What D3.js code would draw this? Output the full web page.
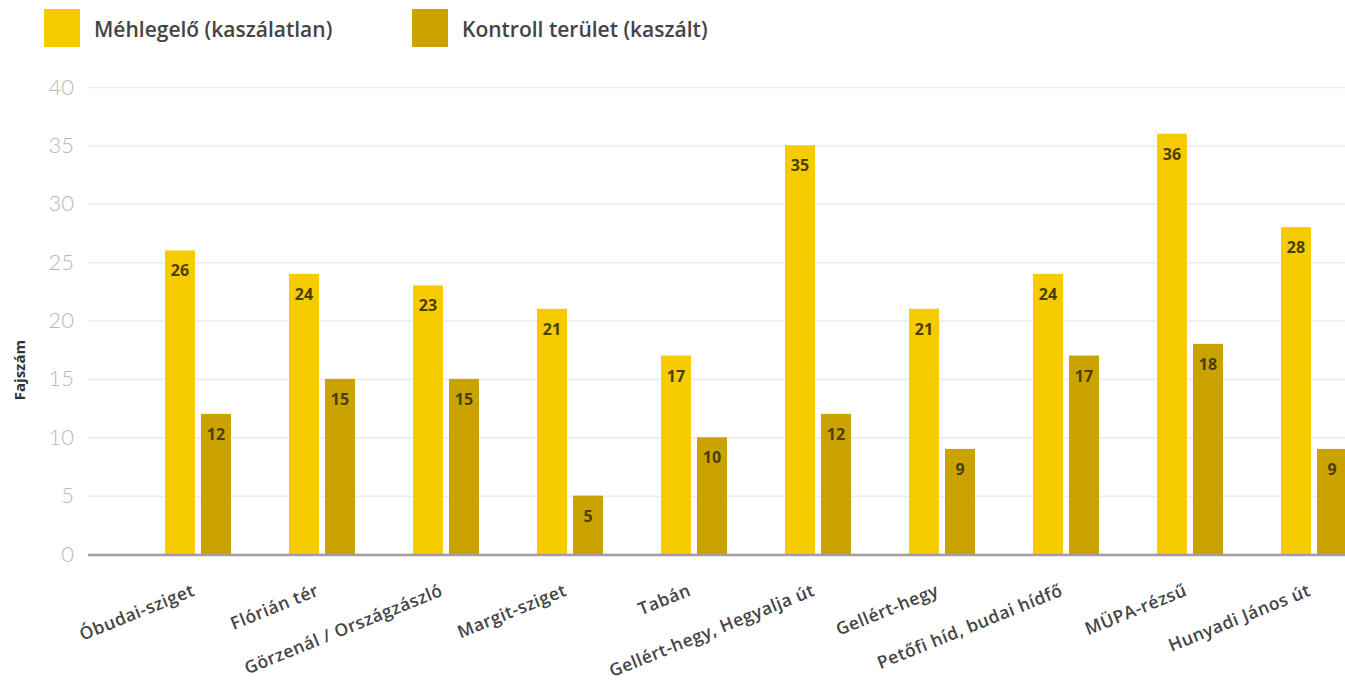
<!DOCTYPE html>
<html>
<head>
<meta charset="utf-8">
<script src="https://cdn.jsdelivr.net/npm/d3@7"></script>
<style>
  html, body { margin: 0; padding: 0; background: #fff; }
  svg { display: block; }
</style>
</head>
<body>
<svg id="chart" width="1345" height="685"></svg>
<script>
// data
const sites = [
  "Óbudai-sziget", "Flórián tér", "Görzenál / Országzászló", "Margit-sziget", "Tabán",
  "Gellért-hegy, Hegyalja út", "Gellért-hegy", "Petőfi híd, budai hídfő", "MÜPA-rézsű", "Hunyadi János út"
];
const seriesNames = ["Méhlegelő (kaszálatlan)", "Kontroll terület (kaszált)"];
const unmowed = [26, 24, 23, 21, 17, 35, 21, 24, 36, 28];
const mowed = [12, 15, 15, 5, 10, 12, 9, 17, 18, 9];
const yTicks = [0, 5, 10, 15, 20, 25, 30, 35, 40];

const colors = ["#f6cb00", "#cba300"];
const labelColor = "#4a3f00";
const textColor = "#444";

const rows = sites.map((s, i) => ({ site: s, values: [unmowed[i], mowed[i]] }));

const svg = d3.select("#chart");
const width = 1345;

// plot frame
const plotLeft = 88, plotTop = 87, plotBottom = 554;

const x0 = d3.scaleBand()
  .domain(sites)
  .range([136, 1376])
  .paddingInner(0.468)
  .paddingOuter(0.234);

const x1 = d3.scaleBand()
  .domain(seriesNames)
  .range([0, x0.bandwidth()])
  .paddingInner(1 / 6);

const y = d3.scaleLinear()
  .domain([0, 40])
  .range([plotBottom, plotTop]);

// gridlines + y labels
const gy = svg.append("g")
  .attr("transform", `translate(${plotLeft},0)`)
  .call(d3.axisLeft(y).tickValues(yTicks).tickSize(-(width - plotLeft)).tickPadding(14));
gy.select(".domain").remove();
gy.selectAll(".tick line").attr("stroke", "#ececec").attr("stroke-width", 1.5);
gy.selectAll(".tick text")
  .attr("fill", "#b8b8b8")
  .attr("font-family", "Lato, 'Open Sans', sans-serif")
  .attr("font-weight", 300)
  .attr("font-size", 22);

// y title
svg.append("text")
  .attr("transform", "translate(25,370) rotate(-90)")
  .attr("text-anchor", "middle")
  .attr("fill", "#333")
  .attr("font-family", "'Open Sans', sans-serif")
  .attr("font-weight", 700)
  .attr("font-size", 15)
  .text("Fajszám");

// bars
const groups = svg.append("g").selectAll("g")
  .data(rows)
  .join("g")
  .attr("transform", d => `translate(${x0(d.site)},0)`);

const cells = groups.selectAll("g")
  .data(d => d.values.map((v, k) => ({ key: seriesNames[k], value: v, k })))
  .join("g");

cells.append("rect")
  .attr("x", d => x1(d.key))
  .attr("y", d => y(d.value))
  .attr("width", x1.bandwidth())
  .attr("height", d => y(0) - y(d.value))
  .attr("fill", d => colors[d.k]);

cells.append("text")
  .attr("x", d => x1(d.key) + x1.bandwidth() / 2)
  .attr("y", d => y(d.value) + 26)
  .attr("text-anchor", "middle")
  .attr("fill", labelColor)
  .attr("font-family", "'Open Sans', sans-serif")
  .attr("font-weight", 700)
  .attr("font-size", 16)
  .text(d => d.value);

// baseline
svg.append("line")
  .attr("x1", plotLeft)
  .attr("x2", width)
  .attr("y1", y(0) + 1)
  .attr("y2", y(0) + 1)
  .attr("stroke", "#a0a0a0")
  .attr("stroke-width", 2.5);

// x labels (rotated)
svg.append("g").selectAll("text")
  .data(sites)
  .join("text")
  .attr("transform", d => `translate(${x0(d) + x0.bandwidth() / 2 - 2},${plotBottom + 41}) rotate(-22)`)
  .attr("text-anchor", "end")
  .attr("fill", textColor)
  .attr("font-family", "'Open Sans', sans-serif")
  .attr("font-weight", 600)
  .attr("font-size", 17.5)
  .attr("letter-spacing", 0.5)
  .text(d => d);

// legend
const legendX = [44, 412];
const legend = svg.append("g").selectAll("g")
  .data(seriesNames)
  .join("g")
  .attr("transform", (d, i) => `translate(${legendX[i]},9)`);

legend.append("rect")
  .attr("width", 36)
  .attr("height", 38)
  .attr("fill", (d, i) => colors[i]);

legend.append("text")
  .attr("x", 50)
  .attr("y", 28)
  .attr("fill", textColor)
  .attr("font-family", "'Open Sans', sans-serif")
  .attr("font-weight", 600)
  .attr("font-size", 21)
  .text(d => d);
</script>
</body>
</html>
